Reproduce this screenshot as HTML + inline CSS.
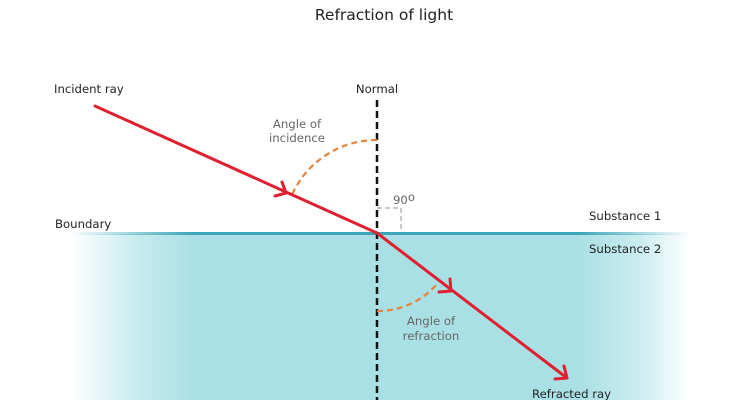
<!DOCTYPE html>
<html><head><meta charset="utf-8"><style>
html,body{margin:0;padding:0;background:#fff;}
svg{display:block;}
text{font-family:"DejaVu Sans","Liberation Sans",sans-serif;}
</style></head><body>
<svg width="750" height="400" viewBox="0 0 750 400" xmlns="http://www.w3.org/2000/svg">
<defs>
<linearGradient id="water" x1="70" y1="0" x2="690" y2="0" gradientUnits="userSpaceOnUse">
<stop offset="0" stop-color="#a9e0e5" stop-opacity="0"/>
<stop offset="0.1" stop-color="#a9e0e5" stop-opacity="0.6"/>
<stop offset="0.2" stop-color="#a9e0e5" stop-opacity="1"/>
<stop offset="0.82" stop-color="#a9e0e5" stop-opacity="1"/>
<stop offset="0.92" stop-color="#a9e0e5" stop-opacity="0.6"/>
<stop offset="1" stop-color="#a9e0e5" stop-opacity="0"/>
</linearGradient>
<linearGradient id="line" x1="70" y1="0" x2="690" y2="0" gradientUnits="userSpaceOnUse">
<stop offset="0" stop-color="#3ba5b9" stop-opacity="0"/>
<stop offset="0.2" stop-color="#3ba5b9" stop-opacity="1"/>
<stop offset="0.82" stop-color="#3ba5b9" stop-opacity="1"/>
<stop offset="1" stop-color="#3ba5b9" stop-opacity="0"/>
</linearGradient>
</defs>
<rect x="70" y="234" width="620" height="166" fill="url(#water)"/>
<rect x="70" y="232" width="620" height="3" fill="url(#line)"/>

<text x="384" y="20" font-size="15.5" text-anchor="middle" fill="#222">Refraction of light</text>
<text x="54" y="93" font-size="11.7" fill="#222">Incident ray</text>
<text x="377" y="93" font-size="11.7" fill="#222" text-anchor="middle">Normal</text>
<text x="55" y="228" font-size="11.7" fill="#222">Boundary</text>
<text x="589" y="220" font-size="11.7" fill="#222">Substance 1</text>
<text x="589" y="253" font-size="11.7" fill="#222">Substance 2</text>
<text x="532" y="398" font-size="11.7" fill="#222">Refracted ray</text>
<text x="297" y="128" font-size="11.7" fill="#666" text-anchor="middle">Angle of</text>
<text x="297" y="142" font-size="11.7" fill="#666" text-anchor="middle">incidence</text>
<text x="431" y="325" font-size="11.7" fill="#666" text-anchor="middle">Angle of</text>
<text x="431" y="340" font-size="11.7" fill="#666" text-anchor="middle">refraction</text>
<text x="393" y="204" font-size="11.7" fill="#666">90<tspan dy="-3">o</tspan></text>

<!-- 90 degree box -->
<polyline points="377,208 401,208 401,232" fill="none" stroke="#c8c8c8" stroke-width="2" stroke-dasharray="5,3"/>

<!-- normal -->
<line x1="377" y1="100" x2="377" y2="400" stroke="#111" stroke-width="2.5" stroke-dasharray="7,4"/>

<!-- arcs -->
<path d="M377,140 A93,93 0 0 0 291,197" fill="none" stroke="#e8823a" stroke-width="2.2" stroke-dasharray="6,4"/>
<path d="M377,311 A78,78 0 0 0 437,284" fill="none" stroke="#e8823a" stroke-width="2.2" stroke-dasharray="6,4"/>

<!-- rays -->
<g stroke="#e0202f" stroke-width="3" fill="none" stroke-linecap="round" stroke-linejoin="round">
<line x1="95" y1="106" x2="377" y2="233"/>
<polyline points="282,182 286,193 275,196"/>
<line x1="377" y1="233" x2="567" y2="378"/>
<polyline points="450,279 451,291 439,292"/>
<polyline points="564,366 567,378 555,379"/>
</g>
</svg>
</body></html>
